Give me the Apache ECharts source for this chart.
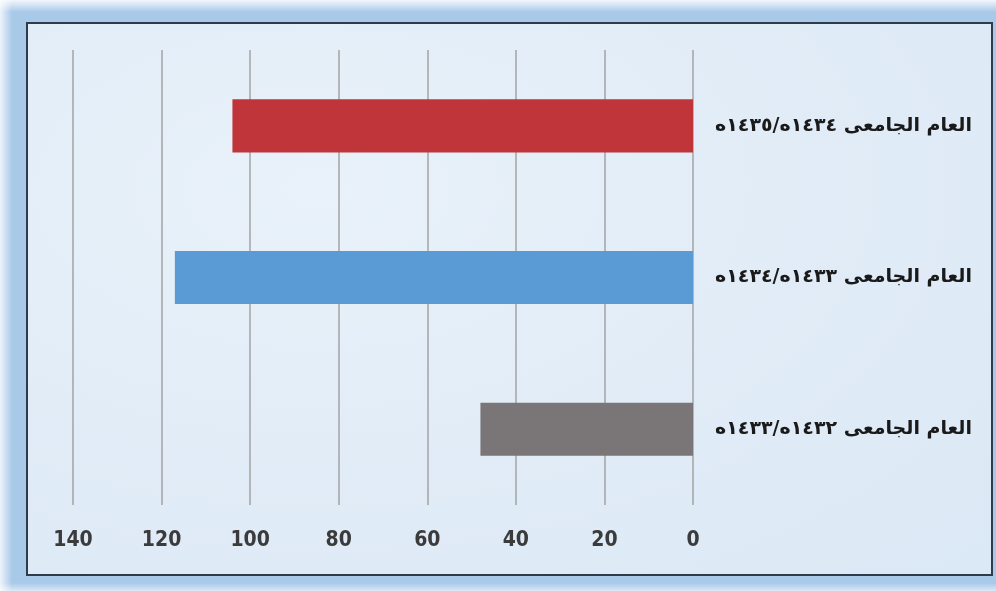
<!DOCTYPE html>
<html>
<head>
<meta charset="utf-8">
<script src="https://cdn.jsdelivr.net/npm/echarts@6/dist/echarts.min.js"></script>
<style>
  html, body { margin: 0; padding: 0; }
  body { width: 996px; height: 591px; overflow: hidden; background: #a9c9e9; position: relative; }
  #glow { position: absolute; left: 0; top: 0; width: 996px; height: 591px;
          background: linear-gradient(to bottom, rgba(255,255,255,0.85) 0px, rgba(255,255,255,0) 12px),
                      linear-gradient(to right, rgba(255,255,255,0.8) 0px, rgba(255,255,255,0) 12px),
                      linear-gradient(to top, rgba(255,255,255,0.6) 0px, rgba(255,255,255,0) 8px); }
  #panel { position: absolute; left: 26px; top: 22px; width: 963px; height: 550px;
           border: 2px solid #2e3b4a;
           background: radial-gradient(ellipse at 30% 30%, #e9f2fa 0%, #e1ecf7 50%, #dbe8f5 100%); }
  #chart { position: absolute; left: 0; top: 0; width: 996px; height: 591px; }
</style>
</head>
<body>
<div id="glow"></div>
<div id="panel"></div>
<div id="chart"></div>
<script>
// Data (bottom to top)
const categories = [
  'العام الجامعى ١٤٣٢ه/١٤٣٣ه',
  'العام الجامعى ١٤٣٣ه/١٤٣٤ه',
  'العام الجامعى ١٤٣٤ه/١٤٣٥ه'
];
const values = [48, 117, 104];
const barColors = ['#7a7576', '#5b9bd5', '#c0353a'];

const chart = echarts.init(document.getElementById('chart'), null, { renderer: 'canvas' });
chart.setOption({
  backgroundColor: 'transparent',
  animation: false,
  grid: { left: 73, right: 303, top: 50, bottom: 86, containLabel: false },
  xAxis: {
    type: 'value',
    inverse: true,
    min: 0, max: 140, interval: 20,
    axisLine: { show: false },
    axisTick: { show: false },
    splitLine: { show: true, lineStyle: { color: '#a3a3a3', width: 1.5 } },
    axisLabel: {
      margin: 25,
      fontFamily: '"DejaVu Sans Condensed", "DejaVu Sans", sans-serif',
      fontWeight: 'bold',
      fontSize: 21,
      color: '#3b3b3b'
    }
  },
  yAxis: {
    type: 'category',
    position: 'right',
    data: categories,
    axisLine: { show: false },
    axisTick: { show: false },
    splitLine: { show: false },
    axisLabel: {
      margin: 22,
      align: 'left',
      fontFamily: '"DejaVu Sans", sans-serif',
      fontWeight: 'bold',
      fontSize: 19,
      color: '#1a1a1a'
    }
  },
  series: [{
    type: 'bar',
    data: values.map((v, i) => ({ value: v, itemStyle: { color: barColors[i] } })),
    barWidth: '35%'
  }]
});
</script>
</body>
</html>
